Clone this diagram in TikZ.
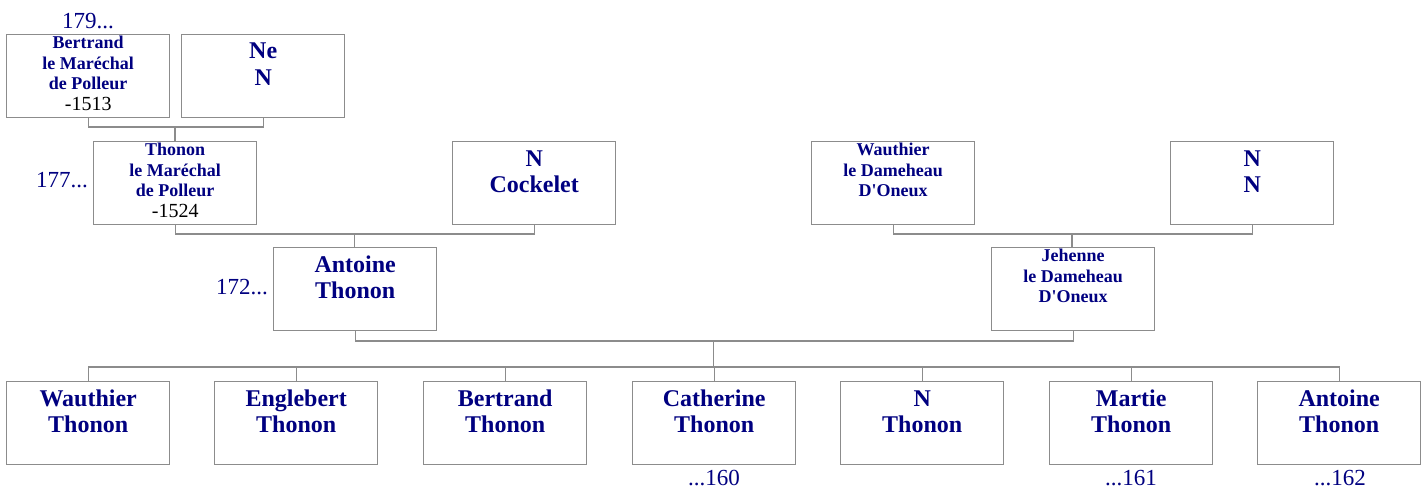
\documentclass[tikz,border=0pt]{standalone}
\usepackage{fontspec}
\setmainfont{Liberation Serif}[Ligatures=TeXOff]
\definecolor{nm}{HTML}{000080}
\definecolor{ln}{HTML}{8C8C8C}
\tikzset{
  pbox/.style={draw=ln, line width=1.4pt, inner sep=0pt, anchor=north west},
  conn/.style={draw=ln, line width=1.4pt},
  num/.style={text=nm, font=\fontsize{23}{26}\selectfont, inner sep=0pt},
}
\newcommand{\bigtxt}[1]{\parbox[c][83pt][t]{163pt}{\centering\fontsize{24}{26.7}\selectfont\bfseries\color{nm}\rule{0pt}{24.3pt}#1}}
\newcommand{\smtxt}[1]{\parbox[c][83pt][t]{163pt}{\centering\fontsize{18}{20.7}\selectfont\bfseries\color{nm}\rule{0pt}{13.8pt}#1}}
\newcommand{\yr}[1]{{\mdseries\color{black}\fontsize{20}{20.7}\selectfont #1}}
\begin{document}
\begin{tikzpicture}[x=1pt,y=-1pt]
\useasboundingbox (0,0) rectangle (1426,489);
% generation 1
\node[pbox] (bert) at (6,34) {\smtxt{Bertrand\\le Maréchal\\de Polleur\\\yr{-1513}}};
\node[pbox] (ne) at (181,34) {\bigtxt{Ne\\N}};
% generation 2
\node[pbox] (thon) at (93,141) {\smtxt{Thonon\\le Maréchal\\de Polleur\\\yr{-1524}}};
\node[pbox] (cock) at (452,141) {\bigtxt{N\\Cockelet}};
\node[pbox] (wd) at (811,141) {\smtxt{Wauthier\\le Dameheau\\D'Oneux}};
\node[pbox] (nn) at (1170,141) {\bigtxt{N\\N}};
% generation 3
\node[pbox] (ant) at (273,247) {\bigtxt{Antoine\\Thonon}};
\node[pbox] (jeh) at (991,247) {\smtxt{Jehenne\\le Dameheau\\D'Oneux}};
% children
\node[pbox] (c1) at (6,381) {\bigtxt{Wauthier\\Thonon}};
\node[pbox] (c2) at (214,381) {\bigtxt{Englebert\\Thonon}};
\node[pbox] (c3) at (423,381) {\bigtxt{Bertrand\\Thonon}};
\node[pbox] (c4) at (632,381) {\bigtxt{Catherine\\Thonon}};
\node[pbox] (c5) at (840,381) {\bigtxt{N\\Thonon}};
\node[pbox] (c6) at (1049,381) {\bigtxt{Martie\\Thonon}};
\node[pbox] (c7) at (1257,381) {\bigtxt{Antoine\\Thonon}};
% number labels
\node[num, anchor=base] (n179) at (88,29) {179...};
\node[num, anchor=base east] (n177) at (88,188) {177...};
\node[num, anchor=base east] (n172) at (268,294) {172...};
\node[num, anchor=base] (n160) at (714,485) {...160};
\node[num, anchor=base] (n161) at (1131,485) {...161};
\node[num, anchor=base] (n162) at (1340,485) {...162};
% connectors
\coordinate (j1) at (175,127);
\draw[conn] (bert.south) |- (j1) -| (ne.south);
\draw[conn] (j1) -- (j1 |- thon.north);
\coordinate (j2) at (354.5,234);
\draw[conn] (thon.south) |- (j2) -| (cock.south);
\draw[conn] (j2) -- (j2 |- ant.north);
\coordinate (j3) at (1072,234);
\draw[conn] (wd.south) |- (j3) -| (nn.south);
\draw[conn] (j3) -- (j3 |- jeh.north);
\coordinate (j4) at (713.5,341);
\draw[conn] (ant.south) |- (j4) -| (jeh.south);
\coordinate (bus) at (713.5,367);
\draw[conn] (j4) -- (bus);
\foreach \c in {c1,c2,c3,c4,c5,c6,c7} \draw[conn] (bus) -| (\c.north);
\end{tikzpicture}
\end{document}
